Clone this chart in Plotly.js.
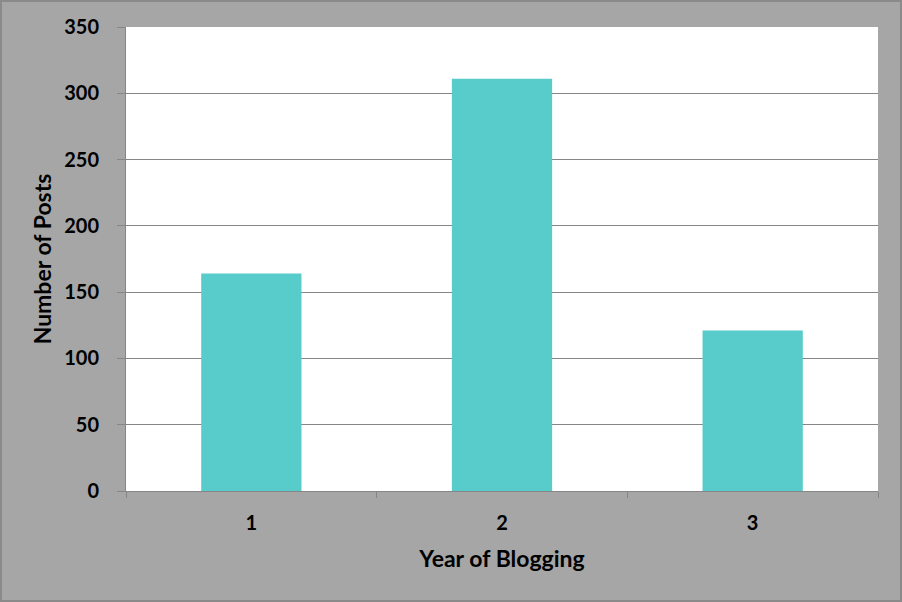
<!DOCTYPE html>
<html>
<head>
<meta charset="utf-8">
<script src="https://cdn.plot.ly/plotly-3.0.1.min.js"></script>
<style>
  html, body { margin: 0; padding: 0; background: #a6a6a6; }
  #wrap { width: 898px; height: 598px; border: 2px solid #8a8a8a; background: #a6a6a6; }
  #chart { width: 898px; height: 598px; }
</style>
</head>
<body>
<div id="wrap"><div id="chart"></div></div>
<script>
const categories = ["1", "2", "3"];
const posts = [164, 311, 121];
const yTicks = [0, 50, 100, 150, 200, 250, 300, 350];

const fontFam = "Lato, 'Open Sans', sans-serif";

Plotly.newPlot("chart", [{
  type: "bar",
  x: categories,
  y: posts,
  width: 0.4,
  marker: { color: "#57cccb", line: { width: 0 } },
  hoverinfo: "none"
}], {
  width: 898,
  height: 598,
  margin: { l: 124, r: 22, t: 25, b: 109 },
  paper_bgcolor: "#a6a6a6",
  plot_bgcolor: "#ffffff",
  showlegend: false,
  font: { family: fontFam, color: "#000000" },
  xaxis: {
    type: "category",
    showgrid: false,
    showline: true,
    linecolor: "#868686",
    linewidth: 1,
    ticks: "outside",
    tickson: "boundaries",
    ticklen: 6,
    tickcolor: "#868686",
    tickfont: { family: fontFam, size: 20, color: "#000", weight: "bold" },
    ticklabelstandoff: 14,
    title: { text: "Year of Blogging", font: { family: fontFam, size: 23, color: "#000", weight: "bold" }, standoff: 17 }
  },
  yaxis: {
    range: [0, 350],
    tickvals: yTicks,
    showgrid: true,
    gridcolor: "#868686",
    gridwidth: 1,
    zeroline: false,
    showline: true,
    linecolor: "#868686",
    linewidth: 1,
    ticks: "outside",
    ticklen: 8,
    tickcolor: "#868686",
    tickfont: { family: fontFam, size: 20, color: "#000", weight: "bold" },
    ticklabelstandoff: 14,
    title: { text: "Number of Posts", font: { family: fontFam, size: 23, color: "#000", weight: "bold" }, standoff: 6 }
  }
}, { staticPlot: true, displayModeBar: false });
</script>
</body>
</html>
